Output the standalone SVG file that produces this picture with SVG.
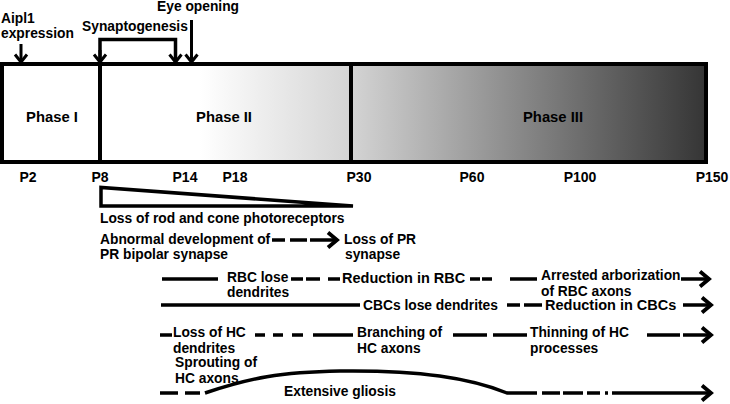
<svg xmlns="http://www.w3.org/2000/svg" width="730" height="404" viewBox="0 0 730 404">
<style>
text{font-family:"Liberation Sans",Arial,Helvetica,sans-serif;font-weight:bold;font-size:13.8px;fill:#000}
.ph{font-size:14.8px}
.p{font-size:14px;text-anchor:middle}
.big{font-size:14.5px}
.ln{fill:none;stroke:#000;stroke-width:3.5}
.ar{fill:none;stroke:#000;stroke-width:3.5;marker-end:url(#ah)}
.dn{fill:none;stroke:#000;stroke-width:3;marker-end:url(#ahd)}
</style>
<defs>
<linearGradient id="g" gradientUnits="userSpaceOnUse" x1="2" y1="0" x2="706" y2="0">
<stop offset="0.281" stop-color="#ffffff"/>
<stop offset="0.496" stop-color="#d4d4d4"/>
<stop offset="1" stop-color="#353535"/>
</linearGradient>
<marker id="ah" markerUnits="userSpaceOnUse" markerWidth="20" markerHeight="20" refX="10" refY="10" orient="auto" overflow="visible">
<path d="M1,2.5 L10,10 L1,17.5" fill="none" stroke="#000" stroke-width="3.8"/>
</marker>
<marker id="ahd" markerUnits="userSpaceOnUse" markerWidth="20" markerHeight="20" refX="10" refY="10" orient="auto" overflow="visible">
<path d="M2.5,4 L10,10 L2.5,16" fill="none" stroke="#000" stroke-width="3"/>
</marker>
</defs>

<g id="timeline">
<rect x="2" y="64" width="704" height="98" fill="url(#g)" stroke="#000" stroke-width="4"/>
<line x1="100" y1="64" x2="100" y2="162" stroke="#000" stroke-width="4"/>
<line x1="351" y1="64" x2="351" y2="162" stroke="#000" stroke-width="4"/>
<text class="ph" x="52" y="122" text-anchor="middle">Phase I</text>
<text class="ph" x="224" y="122" text-anchor="middle">Phase II</text>
<text class="ph" x="553" y="122" text-anchor="middle">Phase III</text>
</g>

<g id="ticks">
<text class="p" x="28" y="182">P2</text>
<text class="p" x="100" y="182">P8</text>
<text class="p" x="185" y="182">P14</text>
<text class="p" x="235" y="182">P18</text>
<text class="p" x="359" y="182">P30</text>
<text class="p" x="472" y="182">P60</text>
<text class="p" x="580" y="182">P100</text>
<text class="p" x="712" y="182">P150</text>
</g>

<g id="top-labels">
<text x="1" y="23">Aipl1</text>
<text x="1" y="38">expression</text>
<text x="82" y="31">Synaptogenesis</text>
<text x="157" y="11">Eye opening</text>
</g>

<g id="connectors">
<path class="dn" d="M21,44 V62"/>
<path class="ln" d="M100,62 V39.5 H175.5 V62" stroke-width="3"/>
<path class="dn" d="M100,50 V62"/>
<path class="dn" d="M175.5,50 V62"/>
<path class="dn" d="M191.5,20 V62"/>

<path class="ar" d="M272,240 H285 M290,240 H307 M310,240 H337"/>

<path class="ln" d="M162,279 H218 M291,279 H303 M306,279 H320 M328,279 H340 M470,279 H480 M482,279 H492 M510,279 H537"/>
<path class="ar" d="M681,279 H709"/>

<path class="ln" d="M161,305 H360 M507,305 H520 M524,305 H542"/>
<path class="ar" d="M683,305 H711"/>

<path class="ln" d="M160,335 H172 M255,335 H265 M273,335 H283 M292,335 H303 M313,335 H353 M453,335 H487 M493,335 H527 M647,335 H680"/>
<path class="ar" d="M683,335 H711"/>

<path class="ln" d="M160,393 H178 M185,393 H200"/>
<path class="ln" d="M205,393 C250,378 280,372 340,371 C420,370 470,378 507,393 H537 M542,393 H560 M563,393 H583 M587,393 H600 M605,393 H608"/>
<path class="ar" d="M612,393 H711"/>
</g>

<g id="photoreceptors">
<polygon points="101,187.5 101,206 353,206" fill="#fff" stroke="#000" stroke-width="3.5"/>
<text x="100" y="223">Loss of rod and cone photoreceptors</text>
</g>

<g id="pr-synapse">
<text x="100" y="244">Abnormal development of</text>
<text x="100" y="259">PR bipolar synapse</text>
<text x="344" y="244">Loss of PR</text>
<text x="345" y="259">synapse</text>
</g>

<g id="rbc">
<text x="227" y="282">RBC lose</text>
<text x="227" y="297">dendrites</text>
<text class="big" x="342" y="283">Reduction in RBC</text>
<text x="541" y="280">Arrested arborization</text>
<text x="541" y="295.5">of RBC axons</text>
</g>

<g id="cbc">
<text x="363" y="310">CBCs lose dendrites</text>
<text class="big" x="545" y="310">Reduction in CBCs</text>
</g>

<g id="hc">
<text x="173" y="337">Loss of HC</text>
<text x="173" y="353">dendrites</text>
<text x="357" y="337">Branching of</text>
<text x="357" y="353">HC axons</text>
<text x="530" y="337">Thinning of HC</text>
<text x="530" y="353">processes</text>
<text x="175" y="367">Sprouting of</text>
<text x="175" y="383">HC axons</text>
</g>

<g id="gliosis">
<text x="284" y="396">Extensive gliosis</text>
</g>
</svg>
